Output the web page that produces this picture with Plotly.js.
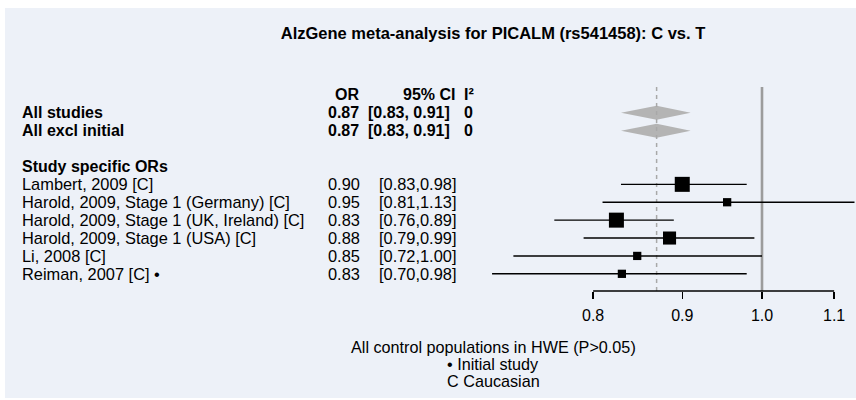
<!DOCTYPE html>
<html>
<head>
<meta charset="utf-8">
<script src="https://cdn.plot.ly/plotly-3.0.1.min.js"></script>
<style>html,body{margin:0;padding:0;background:#fff;}</style>
</head>
<body>
<div id="chart" style="width:856px;height:400px;"></div>
<script>
// ---- data ----
const titleText = "AlzGene meta-analysis for PICALM (rs541458): C vs. T";
const summaryLabels = ["All studies", "All excl initial"];
const summaryOR = [0.87, 0.87];
const summaryLow = [0.83, 0.83];
const summaryHigh = [0.91, 0.91];
const summaryORText = ["0.87", "0.87"];
const summaryCIText = ["[0.83, 0.91]", "[0.83, 0.91]"];
const summaryI2 = ["0", "0"];

const groupLabel = "Study specific ORs";
const studyLabels = ["Lambert, 2009 [C]", "Harold, 2009, Stage 1 (Germany) [C]", "Harold, 2009, Stage 1 (UK, Ireland) [C]", "Harold, 2009, Stage 1 (USA) [C]", "Li, 2008 [C]", "Reiman, 2007 [C] \u2022"];
const studyOR = [0.90, 0.955, 0.825, 0.885, 0.848, 0.831];
const studyLow = [0.83, 0.81, 0.76, 0.79, 0.72, 0.70];
const studyHigh = [0.98, 1.13, 0.89, 0.99, 1.00, 0.98];
const studyORText = ["0.90", "0.95", "0.83", "0.88", "0.85", "0.83"];
const studyCIText = ["[0.83,0.98]", "[0.81,1.13]", "[0.76,0.89]", "[0.79,0.99]", "[0.72,1.00]", "[0.70,0.98]"];
const studyWeight = [1.0, 0.55, 1.0, 0.87, 0.55, 0.55];

const headers = ["OR", "95% CI", "I\u00b2"];
const xTicks = [0.8, 0.9, 1.0, 1.1];
const xTickText = ["0.8", "0.9", "1.0", "1.1"];
const footerLines = ["All control populations in HWE (P>0.05)", "\u2022 Initial study", "C Caucasian"];

// ---- layout helpers ----
const FONT = "Liberation Sans, Arial, sans-serif";
const W = 856, H = 400;
const px = v => v / W;
const summaryRows = summaryLabels.map((_, i) => i);
const headerRow = -1;
const groupRow = 3;
const studyRows = studyLabels.map((_, i) => 4 + i);

const traces = [];
// diamonds
const dx = [], dy = [];
summaryRows.forEach((r, i) => {
  dx.push(summaryLow[i], summaryOR[i], summaryHigh[i], summaryOR[i], summaryLow[i], null);
  dy.push(r, r - 0.39, r, r + 0.39, r, null);
});
traces.push({x: dx, y: dy, type: 'scatter', mode: 'lines', fill: 'toself',
  fillcolor: '#b4b4b4', line: {width: 0, color: '#b4b4b4'}, hoverinfo: 'skip'});
// vertical lines
traces.push({x: [summaryOR[0], summaryOR[0]], y: [-1.44, 9.96], type: 'scatter', mode: 'lines',
  line: {color: '#a8a8a8', width: 1.5, dash: '4px,4px'}, hoverinfo: 'skip'});
traces.push({x: [1, 1], y: [-1.44, 9.96], type: 'scatter', mode: 'lines',
  line: {color: '#9c9c9c', width: 2.6}, hoverinfo: 'skip'});
// CI lines
const cx = [], cy = [];
studyRows.forEach((r, i) => { cx.push(studyLow[i], studyHigh[i], null); cy.push(r, r, null); });
traces.push({x: cx, y: cy, type: 'scatter', mode: 'lines', line: {color: '#000', width: 1.4}, hoverinfo: 'skip'});
// squares
traces.push({x: studyOR, y: studyRows, type: 'scatter', mode: 'markers',
  marker: {symbol: 'square', color: '#000000', opacity: 1, size: studyWeight.map(w => w * 15), line: {width: 0}}, hoverinfo: 'skip'});

const ann = [];
const txt = (text, x, y, anchor, bold, size, yref) => ann.push({text: bold ? '<b>' + text + '</b>' : text,
  x: x, y: y, xref: 'paper', yref: yref || 'y', xanchor: anchor, yanchor: 'middle', showarrow: false,
  borderpad: 0, font: {family: FONT, size: size, color: '#000'}});
const B = 16, N = 16.4;
// headers
txt(headers[0], px(360), headerRow, 'right', true, B);
txt(headers[1], px(456), headerRow, 'right', true, B);
txt(headers[2], px(463), headerRow, 'left', true, B);
summaryRows.forEach((r, i) => {
  txt(summaryLabels[i], px(21), r, 'left', true, B);
  txt(summaryORText[i], px(360), r, 'right', true, B);
  txt(summaryCIText[i], px(367), r, 'left', true, B);
  txt(summaryI2[i], px(463), r, 'left', true, B);
});
txt(groupLabel, px(21), groupRow, 'left', true, B);
studyRows.forEach((r, i) => {
  txt(studyLabels[i], px(21), r, 'left', false, N);
  txt(studyORText[i], px(361), r, 'right', false, N);
  txt(studyCIText[i], px(378), r, 'left', false, N);
});
const footY = [347, 364, 381];
footerLines.forEach((t, i) => txt(t, px(493), (291 - footY[i]) / 204, 'center', false, 16.2, 'paper'));

// axis range: 1.0 at x=762, 1742.6 px per decade
const PPD = 1742.6;
const xr = [-762 / PPD, (W - 762) / PPD];

const layout = {
  width: W, height: H,
  margin: {l: 0, r: 0, t: 87, b: 109, pad: 0},
  paper_bgcolor: '#edf1f8', plot_bgcolor: 'rgba(0,0,0,0)',
  showlegend: false,
  font: {family: FONT, size: 16, color: '#000'},
  title: {text: '<b>' + titleText + '</b>', x: px(493), xanchor: 'center', y: 1 - 33 / H, yanchor: 'middle',
    xref: 'paper', yref: 'container', font: {family: FONT, size: 16.5, color: '#000'}},
  xaxis: {type: 'log', range: xr, autorange: false, tickvals: xTicks, ticktext: xTickText,
    ticks: 'outside', ticklen: 7, tickwidth: 1.5, tickcolor: '#000', showline: false, showgrid: false,
    zeroline: false, ticklabelstandoff: 3, tickfont: {family: FONT, size: 16, color: '#000'}, fixedrange: true},
  yaxis: {range: [9.96, -1.44], autorange: false, visible: false, fixedrange: true},
  shapes: [
    {type: 'rect', xref: 'paper', yref: 'paper', x0: 0, x1: 1, y0: (291 - 8) / 204, y1: 291 / 204,
      fillcolor: '#ffffff', line: {width: 0, color: 'rgba(0,0,0,0)'}, layer: 'below'},
    {type: 'rect', xref: 'paper', yref: 'paper', x0: 0, x1: px(5), y0: (291 - 400) / 204, y1: 291 / 204,
      fillcolor: '#ffffff', line: {width: 0, color: 'rgba(0,0,0,0)'}, layer: 'below'},
    {type: 'rect', xref: 'paper', yref: 'paper', x0: 0, x1: 1, y0: (291 - 400) / 204, y1: (291 - 398) / 204,
      fillcolor: '#ffffff', line: {width: 0, color: 'rgba(0,0,0,0)'}, layer: 'below'},
    {type: 'line', xref: 'x', yref: 'paper', x0: xTicks[0], x1: xTicks[xTicks.length - 1], y0: 0, y1: 0,
      line: {color: '#000', width: 1.5}}
  ],
  annotations: ann
};
Plotly.newPlot('chart', traces, layout, {displayModeBar: false, staticPlot: true});
</script>
</body>
</html>
